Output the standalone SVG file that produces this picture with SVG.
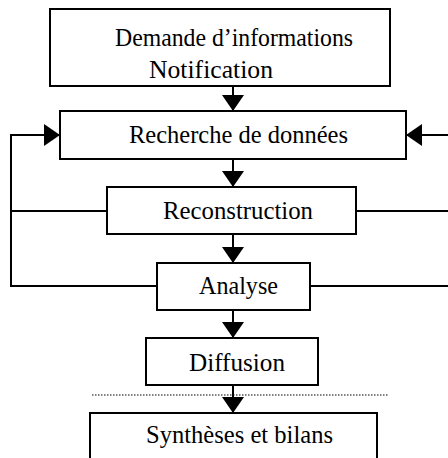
<svg xmlns="http://www.w3.org/2000/svg" width="448" height="458" viewBox="0 0 448 458">
<style>
.box{fill:#fff;stroke:#000;stroke-width:2}
.ln{fill:none;stroke:#000;stroke-width:2}
.dot{fill:none;stroke:#000;stroke-width:1;stroke-dasharray:1.5 1.5}
.t{font-family:'Times New Roman','Liberation Serif','DejaVu Serif',serif;font-size:25px;fill:#000}
</style>
<defs>
<marker id="ah" viewBox="0 0 16 22" refX="16" refY="11" markerWidth="16" markerHeight="22" markerUnits="userSpaceOnUse" orient="auto">
<path d="M0,0 L16,11 L0,22 Z" fill="#000"/>
</marker>
</defs>
<rect width="448" height="458" fill="#fff"/>
<g id="connectors">
<path class="ln" d="M233,86 V111" marker-end="url(#ah)"/>
<path class="ln" d="M233,159 V187" marker-end="url(#ah)"/>
<path class="ln" d="M233,234 V263" marker-end="url(#ah)"/>
<path class="ln" d="M233,310 V338" marker-end="url(#ah)"/>
<path class="ln" d="M233,385 V413" marker-end="url(#ah)"/>
<path class="ln" d="M157,286 H11 V135 H60" marker-end="url(#ah)"/>
<path class="ln" d="M107,211 H11"/>
<path class="ln" d="M449,135 H406" marker-end="url(#ah)"/>
<path class="ln" d="M356,211 H449"/>
<path class="ln" d="M310,286 H449"/>
<path class="dot" d="M92,395 H389"/>
</g>
<g id="n1">
<rect class="box" x="50" y="9" width="340" height="77"/>
<text class="t" x="115" y="46" textLength="238" lengthAdjust="spacingAndGlyphs">Demande d’informations</text>
<text class="t" x="149" y="78" textLength="124" lengthAdjust="spacingAndGlyphs">Notification</text>
</g>
<g id="n2">
<rect class="box" x="60" y="111" width="346" height="48"/>
<text class="t" x="129" y="143" textLength="219" lengthAdjust="spacingAndGlyphs">Recherche de données</text>
</g>
<g id="n3">
<rect class="box" x="107" y="187" width="249" height="47"/>
<text class="t" x="163" y="219" textLength="150" lengthAdjust="spacingAndGlyphs">Reconstruction</text>
</g>
<g id="n4">
<rect class="box" x="157" y="263" width="153" height="47"/>
<text class="t" x="199" y="294" textLength="79" lengthAdjust="spacingAndGlyphs">Analyse</text>
</g>
<g id="n5">
<rect class="box" x="146" y="338" width="172" height="47"/>
<text class="t" x="189" y="371" textLength="96" lengthAdjust="spacingAndGlyphs">Diffusion</text>
</g>
<g id="n6">
<rect class="box" x="90" y="413" width="287" height="60"/>
<text class="t" x="146" y="443" textLength="187" lengthAdjust="spacingAndGlyphs">Synthèses et bilans</text>
</g>
</svg>
